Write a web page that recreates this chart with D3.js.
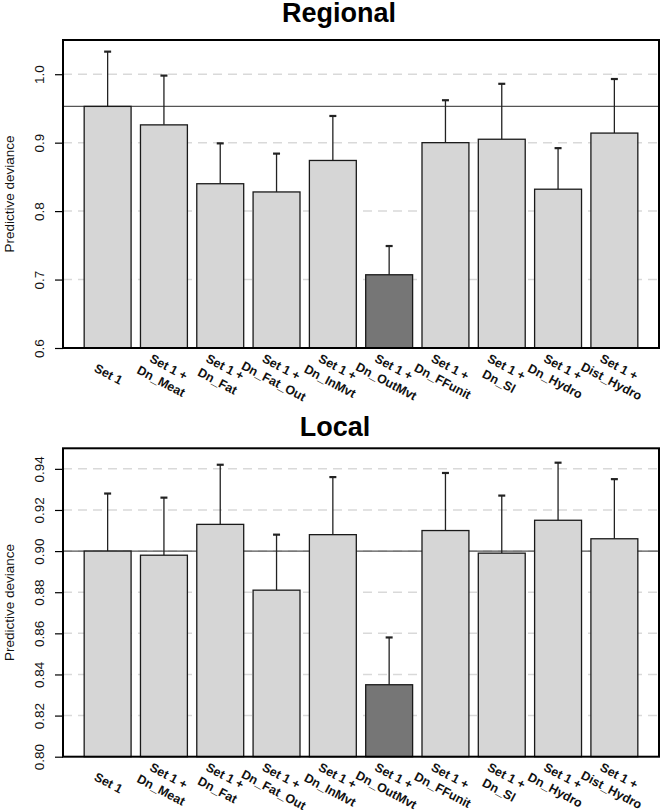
<!DOCTYPE html>
<html>
<head>
<meta charset="utf-8">
<script src="https://cdn.jsdelivr.net/npm/d3@7"></script>
<style>
  html, body { margin: 0; padding: 0; background: #fff; }
  svg { display: block; font-family: "Liberation Sans", Arial, sans-serif; }
</style>
</head>
<body>
<script>
// ---- data ----
const categories = [
  "Set 1", "Set 1 +\nDn_Meat", "Set 1 +\nDn_Fat", "Set 1 +\nDn_Fat_Out", "Set 1 +\nDn_InMvt",
  "Set 1 +\nDn_OutMvt", "Set 1 +\nDn_FFunit", "Set 1 +\nDn_Sl", "Set 1 +\nDn_Hydro", "Set 1 +\nDist_Hydro"
];
const highlightCategory = "Set 1 +\nDn_OutMvt";

const regionalMean  = [0.953, 0.926, 0.840, 0.828, 0.874, 0.707, 0.900, 0.905, 0.832, 0.914];
const regionalUpper = [1.033, 0.998, 0.899, 0.884, 0.939, 0.749, 0.962, 0.986, 0.892, 0.993];
const regionalTicks = [0.6, 0.7, 0.8, 0.9, 1.0];
const regionalDomain = [0.6, 1.05];

const localMean  = [0.900, 0.898, 0.913, 0.881, 0.908, 0.835, 0.910, 0.899, 0.915, 0.906];
const localUpper = [0.928, 0.926, 0.942, 0.908, 0.936, 0.858, 0.938, 0.927, 0.943, 0.935];
const localTicks = [0.80, 0.82, 0.84, 0.86, 0.88, 0.90, 0.92, 0.94];
const localDomain = [0.80, 0.95];

const yLabel = "Predictive deviance";

// ---- layout ----
const W = 661, H = 810;
const svg = d3.select("body").append("svg").attr("width", W).attr("height", H);

const panels = [
  { title: "Regional", titleX: 339, titleY: 22, top: 40, bottom: 348,
    mean: regionalMean, upper: regionalUpper, ticks: regionalTicks, domain: regionalDomain, fmt: d3.format(".1f") },
  { title: "Local", titleX: 335, titleY: 436, top: 448.3, bottom: 756.7,
    mean: localMean, upper: localUpper, ticks: localTicks, domain: localDomain, fmt: d3.format(".2f") }
];

const left = 63, right = 659;

const x = d3.scaleBand().domain(categories).range([left, right])
  .paddingInner(0.2 / 1.2).paddingOuter(0.376).align(0.5);

panels.forEach(p => {
  const g = svg.append("g");
  const y = d3.scaleLinear().domain(p.domain).range([p.bottom, p.top]);
  const data = categories.map((c, i) => ({ cat: c, mean: p.mean[i], upper: p.upper[i] }));

  // grid lines
  g.append("g").selectAll("line").data(p.ticks.filter(t => t > p.domain[0])).join("line")
    .attr("x1", left).attr("x2", right)
    .attr("y1", d => y(d)).attr("y2", d => y(d))
    .attr("stroke", "#d9d9d9").attr("stroke-width", 1.5).attr("stroke-dasharray", "9,6");

  // reference line (Set 1 value)
  g.append("line")
    .attr("x1", left).attr("x2", right)
    .attr("y1", y(p.mean[0])).attr("y2", y(p.mean[0]))
    .attr("stroke", "#555").attr("stroke-width", 1.2);

  // error bars
  const eb = g.append("g").selectAll("g").data(data).join("g");
  eb.append("line")
    .attr("x1", d => x(d.cat) + x.bandwidth() / 2).attr("x2", d => x(d.cat) + x.bandwidth() / 2)
    .attr("y1", d => y(d.mean)).attr("y2", d => y(d.upper))
    .attr("stroke", "#222").attr("stroke-width", 1.3);
  eb.append("line")
    .attr("x1", d => x(d.cat) + x.bandwidth() / 2 - 3.5).attr("x2", d => x(d.cat) + x.bandwidth() / 2 + 3.5)
    .attr("y1", d => y(d.upper)).attr("y2", d => y(d.upper))
    .attr("stroke", "#222").attr("stroke-width", 2.2);

  // bars
  g.append("g").selectAll("rect").data(data).join("rect")
    .attr("x", d => x(d.cat)).attr("width", x.bandwidth())
    .attr("y", d => y(d.mean)).attr("height", d => y(p.domain[0]) - y(d.mean))
    .attr("fill", d => d.cat === highlightCategory ? "#767676" : "#d6d6d6")
    .attr("stroke", "#1a1a1a").attr("stroke-width", 1.3);

  // box
  g.append("rect")
    .attr("x", left).attr("y", p.top).attr("width", right - left).attr("height", p.bottom - p.top)
    .attr("fill", "none").attr("stroke", "#000").attr("stroke-width", 2);

  // y axis
  const ax = g.append("g").attr("transform", `translate(${left},0)`)
    .call(d3.axisLeft(y).tickValues(p.ticks).tickFormat(p.fmt).tickSize(8).tickSizeOuter(0));
  ax.select(".domain").remove();
  ax.selectAll(".tick line").attr("stroke", "#000").attr("stroke-width", 1.2);
  ax.selectAll(".tick text")
    .attr("x", null).attr("dy", null)
    .attr("text-anchor", "middle")
    .attr("transform", "translate(-19,0) rotate(-90)")
    .attr("fill", "#111")
    .style("font-size", "13.5px")
    .style("font-family", "'Liberation Sans', Arial, sans-serif");

  // y label
  g.append("text")
    .attr("transform", `translate(13.5,${(p.top + p.bottom) / 2}) rotate(-90)`)
    .attr("text-anchor", "middle")
    .style("font-size", "13.5px").attr("fill", "#111")
    .text(yLabel);

  // x labels
  const xl = g.append("g").selectAll("text").data(categories).join("text")
    .attr("transform", d => `translate(${x(d) + x.bandwidth() / 2 + 1},${p.bottom + 26}) rotate(28)`)
    .attr("text-anchor", "middle")
    .style("font-size", "12.5px").style("font-weight", "bold").attr("fill", "#111");
  xl.each(function(d) {
    const lines = d.split("\n");
    const n = lines.length;
    d3.select(this).selectAll("tspan").data(lines).join("tspan")
      .attr("x", 0)
      .attr("y", (l, i) => (i - (n - 1) / 2) * 16 + 4.5)
      .text(l => l);
  });

  // title
  g.append("text")
    .attr("x", p.titleX).attr("y", p.titleY)
    .attr("text-anchor", "middle")
    .style("font-size", "27px").style("font-weight", "bold").attr("fill", "#000")
    .text(p.title);
});
</script>
</body>
</html>
